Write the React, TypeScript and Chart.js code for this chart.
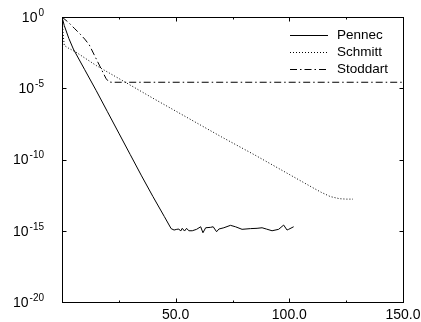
import React, { useEffect, useRef } from "react";
import { Chart, registerables } from "chart.js";

Chart.register(...registerables);

// Values are log10 of the error
const pennecX = [0, 1, 3, 5, 10, 15, 20, 25, 30, 35, 40, 45, 48, 49.3, 50.5, 51.4, 52.2, 52.9, 53.9, 54.8, 55.8, 57.3, 59.2, 61, 62, 63.2, 65.4, 66.5, 68, 69, 71.2, 74.1, 76.3, 79.2, 82.9, 85.8, 88, 89.9, 92.4, 95.3, 97.5, 99, 99.7, 101.9];
const pennecY = [0, -0.6, -1.5, -2.25, -3.7, -5.15, -6.65, -8.15, -9.65, -11.15, -12.6, -14.0, -14.85, -14.95, -14.9, -14.88, -15.02, -14.83, -15.02, -14.83, -15.0, -15.0, -14.9, -14.72, -15.14, -14.79, -14.76, -14.72, -15.07, -14.88, -14.79, -14.62, -14.72, -14.9, -14.85, -14.83, -14.79, -14.88, -15.0, -14.9, -14.6, -14.95, -14.9, -14.72];

const schmittX = [0, 0.5, 1, 3, 6, 15, 27, 40, 55, 70, 85, 100, 110, 114, 118, 122, 125, 128];
const schmittY = [0, -1.2, -2.0, -2.2, -2.45, -3.4, -4.5, -5.7, -7.05, -8.4, -9.7, -11.05, -11.95, -12.3, -12.6, -12.75, -12.78, -12.78];

const stoddartX = [0, 3, 5.4, 8, 10, 12, 14, 16.4, 19.3, 20.6, 22, 150];
const stoddartY = [0, -0.4, -0.79, -1.2, -1.55, -1.96, -2.6, -3.37, -4.3, -4.56, -4.58, -4.58];

const seriesNames = ["Pennec", "Schmitt", "Stoddart"];
const yTickExponents = [0, -5, -10, -15, -20];
const xMajorTicks = [50, 100, 150];
const xMajorLabels = ["50.0", "100.0", "150.0"];
const xMinorTicks = [25, 75, 125];

const FONT = "'Liberation Sans', Arial, Helvetica, sans-serif";
const dashes: number[][] = [[], [1, 2], [7, 3, 1.5, 3]];

const framePlugin = {
  id: "frame",
  afterDraw(chart: any) {
    const { ctx, chartArea: a, scales } = chart;
    const xs = scales.x;
    const ys = scales.y;
    ctx.save();
    ctx.strokeStyle = "#000";
    ctx.lineWidth = 1;
    ctx.setLineDash([]);
    const L = Math.round(a.left) + 0.5;
    const R = Math.round(a.right) + 0.5;
    const T = Math.round(a.top) + 0.5;
    const B = Math.round(a.bottom) + 0.5;
    ctx.strokeRect(L, T, R - L, B - T);
    ctx.beginPath();
    for (const e of yTickExponents) {
      const y = Math.round(ys.getPixelForValue(e)) + 0.5;
      ctx.moveTo(L, y);
      ctx.lineTo(L + 4, y);
      ctx.moveTo(R, y);
      ctx.lineTo(R - 4, y);
    }
    for (const v of xMajorTicks) {
      const x = Math.round(xs.getPixelForValue(v)) + 0.5;
      ctx.moveTo(x, B);
      ctx.lineTo(x, B - 4);
      ctx.moveTo(x, T);
      ctx.lineTo(x, T + 4);
    }
    for (const v of xMinorTicks) {
      const x = Math.round(xs.getPixelForValue(v)) + 0.5;
      ctx.moveTo(x, B);
      ctx.lineTo(x, B - 2);
      ctx.moveTo(x, T);
      ctx.lineTo(x, T + 2);
    }
    ctx.stroke();

    // y labels
    ctx.fillStyle = "#000";
    for (const e of yTickExponents) {
      const y = ys.getPixelForValue(e);
      ctx.font = `14px ${FONT}`;
      const baseW = ctx.measureText("10").width;
      ctx.font = `10px ${FONT}`;
      const sup = String(e);
      const supW = ctx.measureText(sup).width;
      const right = 44;
      const x0 = right - supW - baseW - 1;
      ctx.textBaseline = "middle";
      ctx.textAlign = "left";
      ctx.font = `14px ${FONT}`;
      ctx.fillText("10", x0, y + 1);
      ctx.font = `10px ${FONT}`;
      ctx.fillText(sup, x0 + baseW + 1, y - 4);
    }
    // x labels
    ctx.font = `14px ${FONT}`;
    ctx.textAlign = "center";
    ctx.textBaseline = "middle";
    xMajorTicks.forEach((v, i) => {
      ctx.fillText(xMajorLabels[i], xs.getPixelForValue(v), 315);
    });

    // legend
    ctx.font = `13.5px ${FONT}`;
    ctx.textAlign = "left";
    seriesNames.forEach((name, i) => {
      const y = 35 + i * 17;
      ctx.beginPath();
      ctx.setLineDash(dashes[i]);
      ctx.moveTo(290, y + 0.5);
      ctx.lineTo(328, y + 0.5);
      ctx.stroke();
      ctx.setLineDash([]);
      ctx.fillText(name, 337, y);
    });
    ctx.restore();
  },
};

function toPts(xs: number[], ys: number[]) {
  return xs.map((x, i) => ({ x, y: ys[i] }));
}

export default function App() {
  const ref = useRef<HTMLCanvasElement | null>(null);
  useEffect(() => {
    document.body.style.margin = "0";
    const canvas = ref.current;
    if (!canvas) return;
    const chart = new Chart(canvas, {
      type: "line",
      data: {
        datasets: [
          { label: seriesNames[0], data: toPts(pennecX, pennecY), borderDash: dashes[0] },
          { label: seriesNames[1], data: toPts(schmittX, schmittY), borderDash: dashes[1] },
          { label: seriesNames[2], data: toPts(stoddartX, stoddartY), borderDash: dashes[2] },
        ].map((d) => ({
          ...d,
          borderColor: "#000",
          borderWidth: 1,
          pointRadius: 0,
          tension: 0,
          fill: false,
        })),
      },
      options: {
        animation: false,
        responsive: false,
        devicePixelRatio: 1,
        layout: { padding: { left: 62, right: 18, top: 17, bottom: 20 } },
        plugins: { legend: { display: false }, tooltip: { enabled: false } },
        scales: {
          x: { type: "linear", min: 0, max: 150, display: false },
          y: { type: "linear", min: -20, max: 0, display: false },
        },
      },
      plugins: [framePlugin],
    });
    return () => chart.destroy();
  }, []);
  return (
    <div style={{ width: 421, height: 322 }}>
      <canvas ref={ref} width={421} height={322} />
    </div>
  );
}
